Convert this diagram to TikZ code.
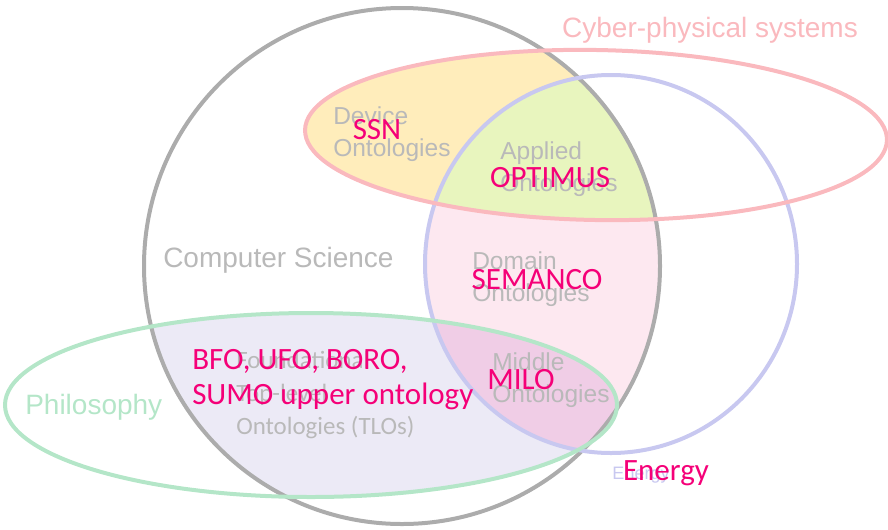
\documentclass[tikz,border=0pt]{standalone}
\usepackage{fontspec}
\setmainfont{Liberation Sans}
\newfontfamily\calibri{Carlito}
\definecolor{csgray}{RGB}{172,172,172}
\definecolor{labelgray}{RGB}{185,185,185}
\definecolor{cpspink}{RGB}{250,185,190}
\definecolor{energyblue}{RGB}{200,200,240}
\definecolor{philgreen}{RGB}{180,230,200}
\definecolor{hotpink}{RGB}{245,0,120}
\definecolor{fillyellow}{RGB}{255,237,187}
\definecolor{filllime}{RGB}{232,245,190}
\definecolor{fillrose}{RGB}{253,232,240}
\definecolor{filllavender}{RGB}{236,234,246}
\definecolor{fillmauve}{RGB}{240,205,230}
% the four sets
\newcommand{\cscircle}{(402,266) circle [radius=258]}
\newcommand{\cpsellipse}{(596,135) ellipse [x radius=291, y radius=85, rotate=-1]}
\newcommand{\energycircle}{(611,264) ellipse [x radius=186, y radius=189]}
\newcommand{\philellipse}{(311,405) ellipse [x radius=306, y radius=92]}

\begin{document}
\begin{tikzpicture}[x=0.75pt,y=-0.75pt,
        setline/.style={line width=3pt},
        setlabel/.style={inner sep=0pt,font=\fontsize{21}{25}\selectfont},
        kindlabel/.style={inner sep=0pt,anchor=west,align=left,text=labelgray,
            font=\fontsize{18.4}{24}\selectfont},
        example/.style={inner sep=0pt,text=hotpink,
            font=\calibri\fontsize{23.25}{26.25}\selectfont},
    ]
        \useasboundingbox (0,0) rectangle (888,529);
        % Fill the overlaps
        \begin{scope}
            \clip \cscircle;
            \fill[fillrose] \energycircle;
            \fill[fillyellow] \cpsellipse;
            \fill[filllavender] \philellipse;
            \clip \energycircle;
            \fill[filllime] \cpsellipse;
            \fill[fillmauve] \philellipse;
        \end{scope}
        % Outlines
        \draw[setline,csgray] \cscircle;
        \draw[setline,energyblue] \energycircle;
        \draw[setline,philgreen] \philellipse;
        \draw[setline,cpspink] \cpsellipse;
        % Set names
        \node[setlabel,text=cpspink] (cps) at (710,30) {Cyber-physical systems};
        \node[setlabel,text=labelgray,anchor=west] (cs) at (163,260) {Computer Science};
        \node[setlabel,text=philgreen,anchor=west] (phil) at (25,407) {Philosophy};
        \node[inner sep=0pt,text=energyblue,font=\fontsize{13.5}{16}\selectfont] (energygray) at (641,475) {Energy};
        % Kinds of ontologies
        \node[kindlabel] (device) at (333,134) {Device\\Ontologies};
        \node[kindlabel] (applied) at (500,169) {Applied\\Ontologies};
        \node[kindlabel] (domain) at (472,279) {Domain\\Ontologies};
        \node[kindlabel] (middle) at (492,380) {Middle\\Ontologies};
        \node[kindlabel,font=\calibri\fontsize{18.7}{24.4}\selectfont] (found) at (236,395) {Foundational\\Top-level\\Ontologies (TLOs)};
        % Example ontologies
        \node[example] (ssn) at (377,130) {SSN};
        \node[example] (optimus) at (550,178) {OPTIMUS};
        \node[example] (semanco) at (537,280) {SEMANCO};
        \node[example] (milo) at (521,380) {MILO};
        \node[example,anchor=west,align=left] (tlo) at (192,380) {BFO, UFO, BORO,\\SUMO upper ontology};
        \node[example] (energy) at (666,473) {Energy};
    \end{tikzpicture}
\end{document}
